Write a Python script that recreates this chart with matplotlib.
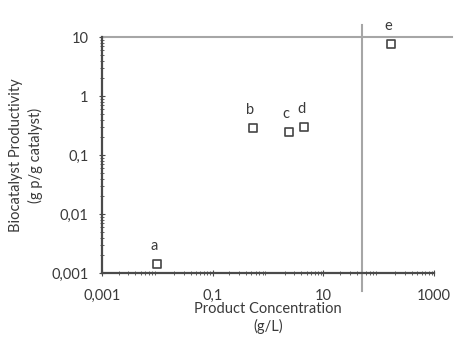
import math

import matplotlib
matplotlib.use("Agg")
import matplotlib.pyplot as plt
from matplotlib.ticker import LogLocator, FixedLocator, FuncFormatter, NullFormatter

plt.rcParams['font.family'] = ['Lato', 'DejaVu Sans']

# data (g/L, g product / g catalyst)
labels = ["a", "b", "c", "d", "e"]
conc = [0.01, 0.54, 2.4, 4.5, 170]
productivity = [0.0014, 0.29, 0.245, 0.30, 7.6]

# threshold guides
conc_limit = 50
prod_limit = 10

x_ticks = [0.001, 0.1, 10, 1000]
y_ticks = [0.001, 0.01, 0.1, 1, 10]

DARK = "#3a3a3a"
GUIDE = "#a6a6a6"


def comma_fmt(v, pos):
    if v >= 1:
        s = f"{v:g}"
    else:
        s = f"{v:.{-int(round(math.log10(v)))}f}"
    return s.replace(".", ",")


fig = plt.figure(figsize=(4.55, 3.4), dpi=100)
ax = fig.add_axes([0.224, 0.197, 0.730, 0.694])
ax.set_xscale("log")
ax.set_yscale("log")
ax.set_xlim(0.001, 1000)
ax.set_ylim(0.001, 10)

ax.scatter(conc, productivity, marker="s", s=40, facecolor="white",
           edgecolor="#444444", linewidth=1.2, zorder=4)
for lab, x, y in zip(labels, conc, productivity):
    ax.annotate(lab, (x, y), xytext=(-2, 8), textcoords="offset points",
                ha="center", va="bottom", fontsize=10.5, color=DARK)

# guide lines run past the plot area, as in the reference
ax.plot([conc_limit, conc_limit], [0.0005, 16], color=GUIDE, lw=1.5,
        clip_on=False, zorder=2)
ax.plot([0.001, 2100], [prod_limit, prod_limit], color=GUIDE, lw=1.5,
        clip_on=False, zorder=2)

for side in ("top", "right"):
    ax.spines[side].set_visible(False)
for side in ("left", "bottom"):
    ax.spines[side].set_color("#4a4a4a")
    ax.spines[side].set_linewidth(1.6)

ax.xaxis.set_major_locator(FixedLocator(x_ticks))
ax.yaxis.set_major_locator(FixedLocator(y_ticks))
ax.xaxis.set_minor_locator(LogLocator(base=10, subs=range(2, 10), numticks=20))
ax.yaxis.set_minor_locator(LogLocator(base=10, subs=range(2, 10), numticks=20))
ax.xaxis.set_major_formatter(FuncFormatter(comma_fmt))
ax.yaxis.set_major_formatter(FuncFormatter(comma_fmt))
ax.xaxis.set_minor_formatter(NullFormatter())
ax.yaxis.set_minor_formatter(NullFormatter())
ax.tick_params(which="both", direction="inout", color="#4a4a4a", labelsize=10.5,
               labelcolor=DARK)
ax.tick_params(which="major", length=5)
ax.tick_params(which="minor", length=3)
ax.tick_params(axis="x", which="major", pad=9)
ax.tick_params(axis="y", which="major", pad=7)

ax.set_xlabel("Product Concentration\n(g/L)", fontsize=10.5, color=DARK, labelpad=-1,
              linespacing=1.25)
ax.set_ylabel("Biocatalyst Productivity\n(g p/g catalyst)", fontsize=10.5, color=DARK,
              labelpad=6, linespacing=1.45)

fig.savefig("out.png", dpi=100)
